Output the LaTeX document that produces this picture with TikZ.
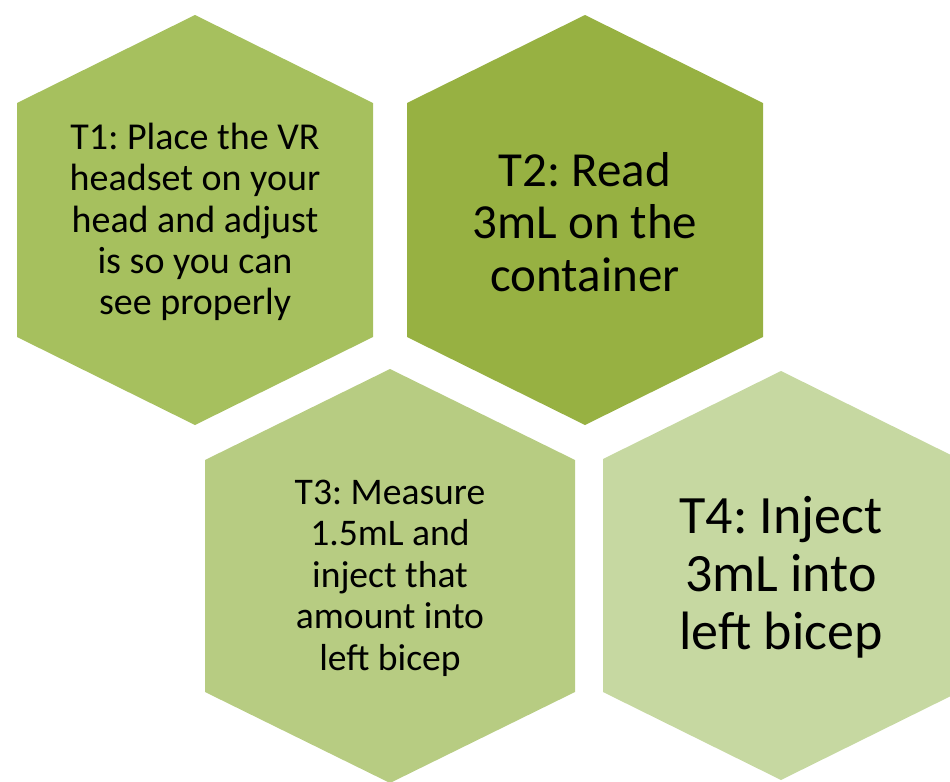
\documentclass[tikz,border=0pt]{standalone}
\usepackage{fontspec}
\setmainfont{Carlito}
\frenchspacing
\usetikzlibrary{positioning}

\definecolor{hexone}{RGB}{166,192,94}
\definecolor{hextwo}{RGB}{151,177,66}
\definecolor{hexthree}{RGB}{183,204,130}
\definecolor{hexfour}{RGB}{198,216,161}

\begin{document}
\begin{tikzpicture}[x=0.5pt,y=-0.5pt,
  cell/.style={align=center,text=black,inner sep=0pt}]
  \useasboundingbox (0,0) rectangle (950,782);
  \clip (0,0) rectangle (950,782);

  % Hexagons: centre x, top y, half width, slant height, full height
  \foreach \cx/\ty/\hw/\sl/\ht/\col in {195/15/178/88/410/hexone,
      585/15/178/88/410/hextwo,
      390/369/185/91/414/hexthree,
      781/371/178/88/409/hexfour} {
    \fill[\col] (\cx,\ty) -- ++(\hw,\sl) -- (\cx+\hw,\ty+\ht-\sl)
      -- (\cx,\ty+\ht) -- (\cx-\hw,\ty+\ht-\sl) -- (\cx-\hw,\ty+\sl) -- cycle;
  }

  % Task labels
  \node[cell,font=\fontsize{19}{20.6}\selectfont] (t1) at (195,222)
    {T1: Place the VR\\headset on your\\head and adjust\\is so you can\\see properly};
  \node[cell,font=\fontsize{24.5}{26.25}\selectfont] (t2) at (585,222)
    {T2: Read\\3mL on the\\container};
  \node[cell,font=\fontsize{18.8}{20.75}\selectfont] (t3) at (390,578)
    {T3: Measure\\1.5mL and\\inject that\\amount into\\left bicep};
  \node[cell,font=\fontsize{27}{29}\selectfont] (t4) at (781,577)
    {T4: Inject\\3mL into\\left bicep};
\end{tikzpicture}
\end{document}
